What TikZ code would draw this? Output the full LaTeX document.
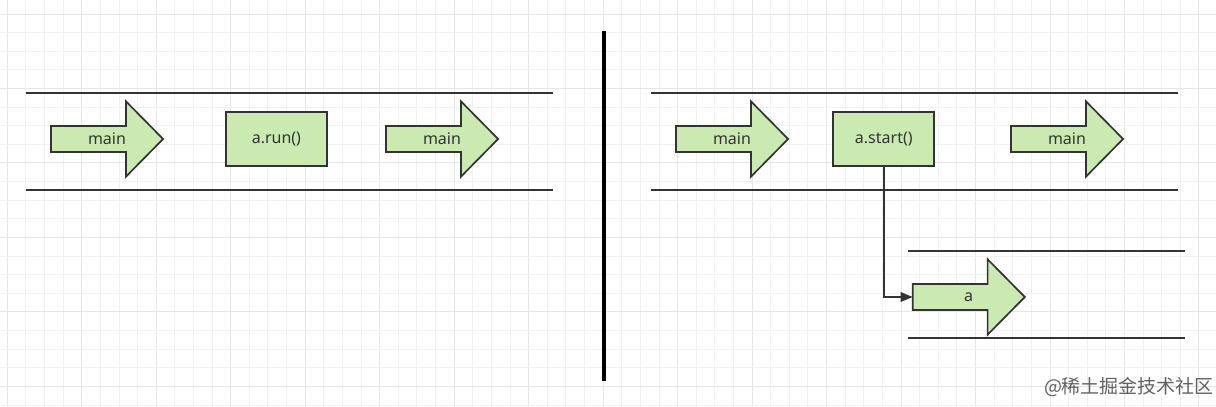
\documentclass[tikz,border=0pt]{standalone}
\usepackage{fontspec}
\setmainfont{Noto Sans}
\newfontfamily\cjk{Noto Sans CJK SC}
\usetikzlibrary{arrows.meta,calc}
\definecolor{boxfill}{HTML}{CAEAB2}
\definecolor{ink}{HTML}{333333}
\definecolor{gridminor}{HTML}{F1F1F1}
\definecolor{gridmajor}{HTML}{E6E6E6}
\tikzset{
  lane/.style={draw=ink, line width=1.8pt},
  shapeline/.style={draw=ink, fill=boxfill, line width=1.7pt, line join=miter},
  codebox/.style={draw=ink, fill=boxfill, line width=1.7pt, minimum width=101pt, minimum height=53.4pt, inner sep=0pt, text=ink, font=\fontsize{16}{19}\selectfont},
  shaftnode/.style={inner sep=0pt, minimum width=74.5pt, minimum height=25.6pt, anchor=west},
  lbl/.style={inner sep=0pt, text=ink, font=\fontsize{16}{19}\selectfont},
  conn/.style={draw=ink, line width=1.7pt, -{Triangle[length=12pt,width=9.5pt]}},
}
% #1 name, #2 left x, #3 centre y, #4 text
\newcommand\fatarrow[4]{%
  \node[shaftnode] (#1) at (#2,#3) {};
  \draw[shapeline] (#1.north west) -- (#1.north east) -- ++(0,-24.7) -- ($(#1.east)+(37.2,0)$) -- ($(#1.south east)+(0,24.7)$) -- (#1.south east) -- (#1.south west) -- cycle;
  \node[lbl] (#1-t) at ($(#1.west)+(56,0)$) {#4};
}
\begin{document}
\begin{tikzpicture}[x=1pt,y=-1pt]
\useasboundingbox[fill=white] (0,0) rectangle (1216,407);
% grid
\foreach \k in {0,...,65} {
  \pgfmathtruncatemacro\m{mod(\k,4)}
  \ifnum\m=0
    \draw[gridmajor, line width=1pt] ({7.3+18.62*\k},0) -- ({7.3+18.62*\k},407);
  \else
    \draw[gridminor, line width=1pt] ({7.3+18.62*\k},0) -- ({7.3+18.62*\k},407);
  \fi
}
\foreach \k in {0,...,21} {
  \pgfmathtruncatemacro\m{mod(\k,4)}
  \ifnum\m=0
    \draw[gridmajor, line width=1pt] (0,{14+18.62*\k}) -- (1216,{14+18.62*\k});
  \else
    \draw[gridminor, line width=1pt] (0,{14+18.62*\k}) -- (1216,{14+18.62*\k});
  \fi
}
% left panel lanes
\coordinate (l1a) at (26,93.3);  \coordinate (l1b) at (553,93.3);
\coordinate (l2a) at (26,190);   \coordinate (l2b) at (553,190);
\draw[lane] (l1a) -- (l1b);
\draw[lane] (l2a) -- (l2b);
\fatarrow{m1}{51}{139}{main}
\node[codebox] (arun) at (276.4,139) {a.run()};
\fatarrow{m2}{386}{139}{main}
% divider
\coordinate (d1) at (604,31);
\coordinate (d2) at (604,381);
\draw[black, line width=4pt] (d1) -- (d2);
% right panel lanes
\coordinate (r1a) at (651,93.3);  \coordinate (r1b) at (1178,93.3);
\coordinate (r2a) at (651,190);   \coordinate (r2b) at (1178,190);
\draw[lane] (r1a) -- (r1b);
\draw[lane] (r2a) -- (r2b);
\fatarrow{m3}{676}{139}{main}
\node[codebox] (astart) at (883.8,139) {a.start()};
\fatarrow{m4}{1011}{139}{main}
% thread lane
\coordinate (t1a) at (908.3,251);  \coordinate (t1b) at (1185,251);
\coordinate (t2a) at (908.3,338.3); \coordinate (t2b) at (1185,338.3);
\draw[lane] (t1a) -- (t1b);
\draw[lane] (t2a) -- (t2b);
\fatarrow{ta}{912.7}{297}{a}
\draw[conn] (astart.south) |- (ta.west);
% watermark
\node[inner sep=0pt, text=black!62, font=\cjk\fontsize{19}{22}\selectfont] (wm) at (1129,387.5) {@稀土掘金技术社区};
\end{tikzpicture}
\end{document}
